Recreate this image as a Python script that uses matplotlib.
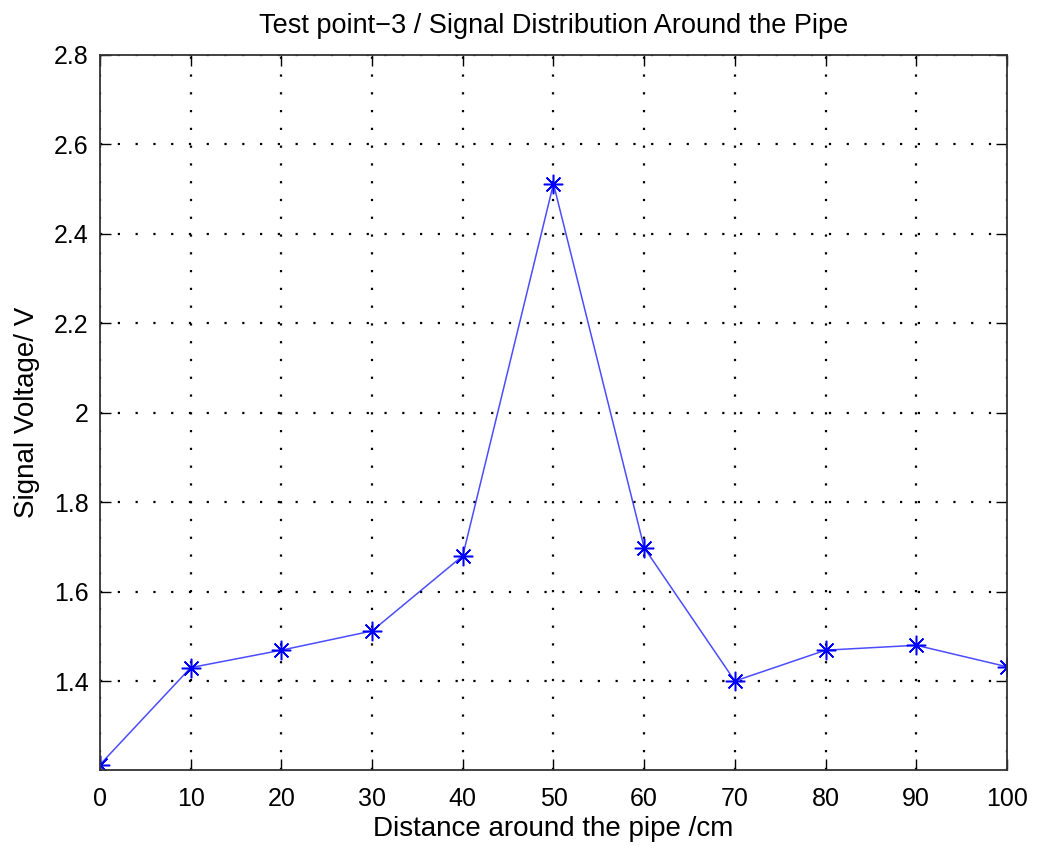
import matplotlib.pyplot as plt

# data
distance = [0, 10, 20, 30, 40, 50, 60, 70, 80, 90, 100]
voltage = [1.213, 1.430, 1.469, 1.512, 1.680, 2.512, 1.698, 1.400, 1.469, 1.480, 1.432]
yticks = [1.4, 1.6, 1.8, 2.0, 2.2, 2.4, 2.6, 2.8]
ytick_labels = ["1.4", "1.6", "1.8", "2", "2.2", "2.4", "2.6", "2.8"]

plt.rcParams["font.family"] = ["Liberation Sans", "DejaVu Sans"]

fig = plt.figure(figsize=(10.39, 8.46), dpi=100)
ax = fig.add_axes([0.0962, 0.0898, 0.8730, 0.8452])

ax.plot(distance, voltage, color="blue", linewidth=1.1, alpha=0.7)
ax.plot(distance, voltage, linestyle="none", marker=(8, 2, 0),
        markersize=14, markeredgewidth=1.1, color="blue")

ax.set_xlim(0, 100)
ax.set_ylim(1.201, 2.8)
ax.set_xticks(distance)
ax.set_yticks(yticks)
ax.set_yticklabels(ytick_labels)

ax.grid(True, color="black", linestyle=(0, (1, 7)), linewidth=1.6)
ax.tick_params(direction="in", length=8, labelsize=18, top=True, right=True,
               width=1, colors="black")
ax.tick_params(axis="x", pad=12)
ax.tick_params(axis="y", pad=8)
for s in ax.spines.values():
    s.set_linewidth(1.3)
    s.set_color("#333333")

ax.set_title("Test point\u22123 / Signal Distribution Around the Pipe",
             fontsize=19.5, pad=16)
ax.set_xlabel("Distance around the pipe /cm", fontsize=20, labelpad=4)
ax.set_ylabel("Signal Voltage/ V", fontsize=20, labelpad=10)

fig.savefig("out.png", dpi=100)
